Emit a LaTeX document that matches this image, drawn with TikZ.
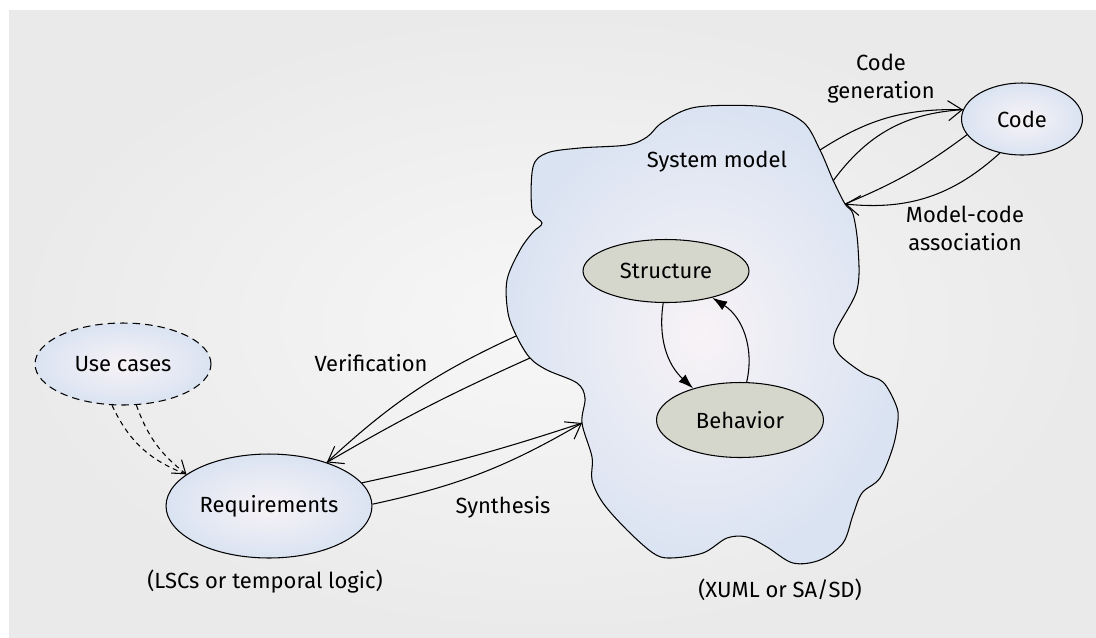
\documentclass[tikz,border=0pt]{standalone}
\usepackage{fontspec}
\setmainfont{Fira Sans}
\usetikzlibrary{shapes.geometric,arrows.meta}
\definecolor{bgin}{HTML}{F7F7F7}
\definecolor{bgout}{HTML}{EAEAEA}
\definecolor{bubblein}{HTML}{F8F3F6}
\definecolor{bubbleout}{HTML}{DAE3F2}
\definecolor{partfill}{HTML}{D5D6CC}
\begin{document}
\begin{tikzpicture}[x=0.02cm,y=-0.02cm,
    font=\fontsize{12.5}{16}\selectfont,
    bubble/.style={ellipse,draw,line width=0.6pt,inner color=bubblein,outer color=bubbleout,inner sep=0pt},
    part/.style={ellipse,draw,line width=0.6pt,fill=partfill,inner sep=0pt},
    link/.style={line width=0.6pt},
    barb/.style={link,-{Straight Barb[length=2.8mm,width=4mm]}},
    flow/.style={link,-{Latex[length=3mm,width=2mm]}},
    dashlink/.style={link,dash pattern=on 1mm off 0.8mm}]
  \useasboundingbox (0,0) rectangle (1096,637);
  \shade[inner color=bgin,outer color=bgout] (9,10) rectangle (1096,637);

  % system model cloud
  \draw[link,inner color=bubblein,outer color=bubbleout]
    plot[smooth cycle,tension=0.55] coordinates {
      (697,107) (767,107) (803,122) (820,150) (833,180) (845,204) (853,214)
      (858,247) (857,290) (835,333) (838,353) (863,373) (883,382) (896,405)
      (898,420) (893,447) (880,478) (862,493) (853,515) (843,543) (820,560)
      (793,563) (767,547) (747,537) (727,538) (703,553) (670,558) (653,553)
      (627,530) (603,503) (592,480) (592,457) (582,423) (585,398) (577,383)
      (547,370) (530,358) (517,337) (508,313) (507,280) (520,250) (533,232)
      (542,223) (532,210) (533,167) (547,153) (580,148) (627,145) (647,137)
      (663,122)};
  \coordinate (sm-ver1) at (516,336);
  \coordinate (sm-ver2) at (530,358);
  \coordinate (sm-syn) at (582,423);
  \coordinate (sm-gen1) at (820,150);
  \coordinate (sm-gen2) at (833,181);
  \coordinate (sm-assoc) at (845,204);

  \node[bubble,dash pattern=on 1.5mm off 1mm,minimum width=3.52cm,minimum height=1.64cm] (uc) at (123,364) {Use cases};
  \node[bubble,minimum width=4.12cm,minimum height=2.08cm] (req) at (269,506) {Requirements};
  \node[bubble,minimum width=2.42cm,minimum height=1.44cm] (code) at (1022,119) {Code};
  \node[part,minimum width=3.32cm,minimum height=1.26cm] (str) at (666,271) {Structure};
  \node[part,minimum width=3.34cm,minimum height=1.5cm] (beh) at (740,420) {Behavior};

  \node[align=center] (gen) at (881,79) {Code\\generation};
  \node (sm) at (717,162) {System model};
  \node[align=center] (assoc) at (965,228) {Model-code\\association};
  \node (ver) at (371,363) {Verification};
  \node (syn) at (503,507) {Synthesis};
  \node (lsc) at (265,582) {(LSCs or temporal logic)};
  \node (xuml) at (780,590) {(XUML or SA/SD)};

  \draw[link] (sm-ver1) to[bend right=9] (req.37);
  \draw[barb] (sm-ver2) to[bend right=3] (req.37);
  \draw[link] (req.14) to[bend right=3] (sm-syn);
  \draw[barb] (req.1) to[bend right=9] (sm-syn);
  \draw[link] (sm-gen1) to[bend left=17] (code.171);
  \draw[barb] (sm-gen2) to[bend left=25] (code.171);
  \draw[link] (code.196) to[bend left=7] (sm-assoc);
  \draw[barb] (code.237) to[bend left=24] (sm-assoc);
  \draw[flow] (str.265) to[bend right=28] (beh.146);
  \draw[flow] (beh.80) to[bend right=35] (str.330);
  \draw[dashlink] (uc.255) to[bend right=22] (req.159);
  \draw[dashlink,-{Straight Barb[length=2.4mm,width=3.4mm]}] (uc.288) to[bend right=16] (req.159);
\end{tikzpicture}
\end{document}
